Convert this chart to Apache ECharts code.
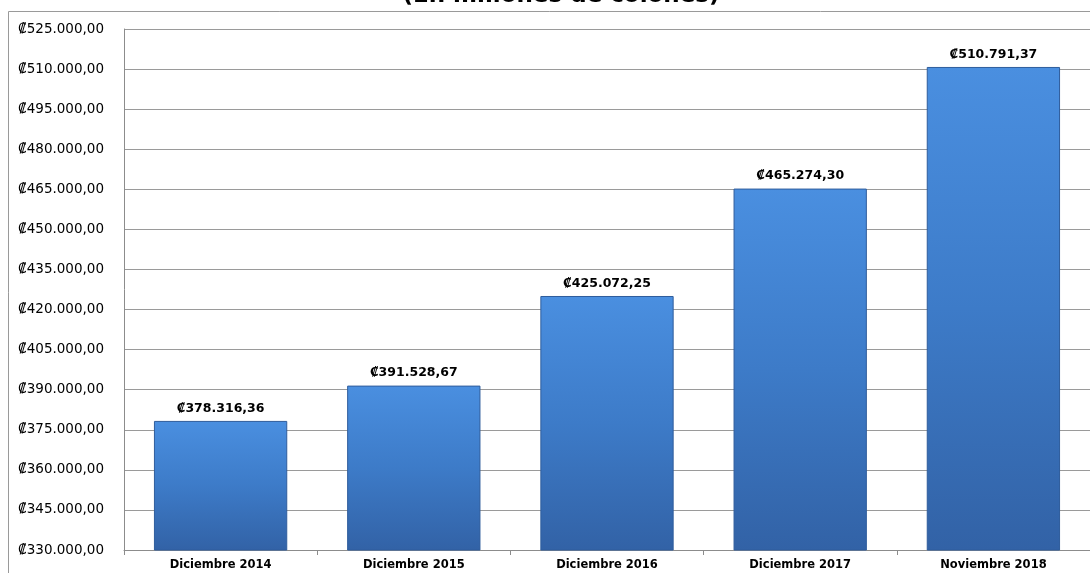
<!DOCTYPE html>
<html>
<head>
<meta charset="utf-8">
<script src="https://cdn.jsdelivr.net/npm/echarts@6/dist/echarts.min.js"></script>
<style>
  html, body { margin: 0; padding: 0; background: #fff; }
  #main { width: 1090px; height: 573px; }
</style>
</head>
<body>
<div id="main"></div>
<script>
// categorias y valores (millones de colones)
var categorias = ['Diciembre 2014', 'Diciembre 2015', 'Diciembre 2016', 'Diciembre 2017', 'Noviembre 2018'];
var valores = [378316.36, 391528.67, 425072.25, 465274.30, 510791.37];
var ejeMin = 330000;
var ejeMax = 525000;
var ejePaso = 15000;

// formato 378.316,36
function formatoColones(v) {
    var partes = v.toFixed(2).split('.');
    var entero = partes[0].replace(/\B(?=(\d{3})+(?!\d))/g, '.');
    return '\u20A1' + entero + ',' + partes[1];
}

var myChart = echarts.init(document.getElementById('main'));
var option = {
    animation: false,
    title: {
        text: '(En millones de colones)',
        left: 556,
        top: -20,
        textAlign: 'center',
        textStyle: {
            fontFamily: 'DejaVu Sans',
            fontWeight: 'bold',
            fontSize: 23,
            color: '#000'
        }
    },
    graphic: [{
        type: 'rect',
        shape: { x: 8.5, y: 11.5, width: 1200, height: 700 },
        style: { fill: 'none', stroke: '#9a9a9a', lineWidth: 1 },
        z: -1
    }],
    grid: {
        left: 124,
        right: 0,
        top: 29,
        bottom: 23
    },
    xAxis: {
        type: 'category',
        data: categorias,
        axisLine: { lineStyle: { color: '#8c8c8c', width: 1 } },
        axisTick: { show: true, length: 5, lineStyle: { color: '#8c8c8c' } },
        axisLabel: {
            margin: 9,
            fontFamily: 'DejaVu Sans',
            fontWeight: 'bold',
            fontSize: 11.5,
            color: '#000'
        }
    },
    yAxis: {
        type: 'value',
        min: ejeMin,
        max: ejeMax,
        interval: ejePaso,
        axisLine: { show: true, lineStyle: { color: '#8c8c8c' } },
        axisTick: { show: false },
        splitLine: { lineStyle: { color: '#9a9a9a', width: 1 } },
        axisLabel: {
            margin: 20,
            fontFamily: 'DejaVu Sans',
            fontSize: 13.5,
            color: '#000',
            formatter: function (v) { return formatoColones(v); }
        }
    },
    series: [{
        type: 'bar',
        data: valores,
        barWidth: '69%',
        itemStyle: {
            color: new echarts.graphic.LinearGradient(0, 0, 0, 1, [
                { offset: 0, color: '#4a8fe0' },
                { offset: 0.5, color: '#3d7bc8' },
                { offset: 1, color: '#3262a6' }
            ]),
            borderColor: '#2f5d9c',
            borderWidth: 1
        },
        label: {
            show: true,
            position: 'top',
            distance: 6,
            fontFamily: 'DejaVu Sans',
            fontWeight: 'bold',
            fontSize: 12.5,
            color: '#000',
            formatter: function (p) { return formatoColones(p.value); }
        }
    }]
};
myChart.setOption(option);
</script>
</body>
</html>
